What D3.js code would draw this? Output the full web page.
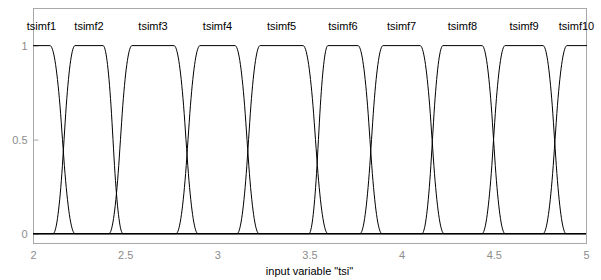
<!DOCTYPE html>
<html>
<head>
<meta charset="utf-8">
<script src="https://cdn.jsdelivr.net/npm/d3@7"></script>
<style>
  body { margin: 0; background: #fff; }
  text { font-family: "Liberation Sans", Arial, sans-serif; font-size: 11px; }
</style>
</head>
<body>
<svg id="chart"></svg>
<script>
// membership function names and their [a, b, c, d] break points
const mfNames = ['tsimf1', 'tsimf2', 'tsimf3', 'tsimf4', 'tsimf5',
  'tsimf6', 'tsimf7', 'tsimf8', 'tsimf9', 'tsimf10'];
const mfA = [1.90, 2.109, 2.412, 2.776, 3.107, 3.497, 3.774, 4.110, 4.436, 4.767];
const mfB = [1.98, 2.228, 2.537, 2.906, 3.232, 3.600, 3.899, 4.224, 4.561, 4.897];
const mfC = [2.092, 2.380, 2.765, 3.096, 3.465, 3.763, 4.100, 4.436, 4.767, 5.03];
const mfD = [2.228, 2.488, 2.895, 3.226, 3.600, 3.893, 4.230, 4.561, 4.892, 5.12];

// shape of one edge: fraction of the edge width vs membership grade
const edgeT = [0, 0.1, 0.2, 0.3, 0.4, 0.5, 0.6, 0.7, 0.8, 0.9, 1];
const edgeMu = [0, 0.02, 0.08, 0.18, 0.32, 0.5, 0.68, 0.82, 0.92, 0.98, 1];

const xTicks = [2, 2.5, 3, 3.5, 4, 4.5, 5];
const yTicks = [0, 0.5, 1];
const xDomain = [2, 5];
const yDomain = [-0.05, 1.2];

const width = 601, height = 280;
const margin = { left: 33, right: 15, top: 8, bottom: 37 };

const svg = d3.select('#chart')
  .attr('width', width)
  .attr('height', height);

const x = d3.scaleLinear().domain(xDomain).range([margin.left, width - margin.right]);
const y = d3.scaleLinear().domain(yDomain).range([height - margin.bottom, margin.top]);

svg.append('defs').append('clipPath')
  .attr('id', 'plot-clip')
  .append('rect')
  .attr('x', x(xDomain[0]))
  .attr('y', y(yDomain[1]))
  .attr('width', x(xDomain[1]) - x(xDomain[0]) + 1)
  .attr('height', y(yDomain[0]) - y(yDomain[1]));

// axes box
svg.append('rect')
  .attr('x', x(xDomain[0]) + 0.5)
  .attr('y', y(yDomain[1]) + 0.5)
  .attr('width', x(xDomain[1]) - x(xDomain[0]))
  .attr('height', y(yDomain[0]) - y(yDomain[1]))
  .attr('fill', 'none')
  .attr('stroke', '#a8a8a8');

const yAxis = svg.append('g')
  .attr('transform', 'translate(' + (x(xDomain[0]) + 0.5) + ',0)')
  .call(d3.axisLeft(y).tickValues(yTicks).tickSize(-5).tickPadding(6)
    .tickFormat(d3.format('')));
yAxis.select('.domain').remove();
yAxis.selectAll('line').attr('stroke', '#a8a8a8');
yAxis.selectAll('text').attr('fill', '#8c8c8c').style('font-size', '11px');

const xAxis = svg.append('g')
  .attr('transform', 'translate(0,' + (y(yDomain[0]) + 0.5) + ')')
  .call(d3.axisBottom(x).tickValues(xTicks).tickSize(0).tickPadding(8)
    .tickFormat(d3.format('')));
xAxis.select('.domain').remove();
xAxis.selectAll('text').attr('fill', '#8c8c8c').style('font-size', '11px');

const line = d3.line()
  .x(function(p) { return x(p[0]); })
  .y(function(p) { return y(p[1]); })
  .curve(d3.curveMonotoneX);

function mfPoints(i) {
  const a = mfA[i], b = mfB[i], c = mfC[i], d = mfD[i];
  const pts = [];
  if (a > xDomain[0]) pts.push([xDomain[0], 0]);
  edgeT.forEach(function(t, k) { pts.push([a + t * (b - a), edgeMu[k]]); });
  edgeT.forEach(function(t, k) { pts.push([c + t * (d - c), edgeMu[edgeMu.length - 1 - k]]); });
  if (d < xDomain[1]) pts.push([xDomain[1], 0]);
  return pts;
}

svg.append('g')
  .attr('clip-path', 'url(#plot-clip)')
  .selectAll('.mf')
  .data(mfNames)
  .enter()
  .append('path')
  .attr('class', 'mf')
  .attr('d', function(name, i) { return line(mfPoints(i)); })
  .attr('fill', 'none')
  .attr('stroke', '#000')
  .attr('stroke-width', 1);

// labels centred over the visible plateau
svg.selectAll('.mf-label')
  .data(mfNames)
  .enter()
  .append('text')
  .attr('class', 'mf-label')
  .attr('x', function(name, i) {
    return x((Math.max(mfB[i], xDomain[0]) + Math.min(mfC[i], xDomain[1])) / 2);
  })
  .attr('y', 30)
  .attr('text-anchor', 'middle')
  .attr('fill', '#000')
  .text(function(name) { return name; });

svg.append('text')
  .attr('x', (x(xDomain[0]) + x(xDomain[1])) / 2)
  .attr('y', 275)
  .attr('text-anchor', 'middle')
  .attr('fill', '#000')
  .text('input variable "tsi"');
</script>
</body>
</html>
